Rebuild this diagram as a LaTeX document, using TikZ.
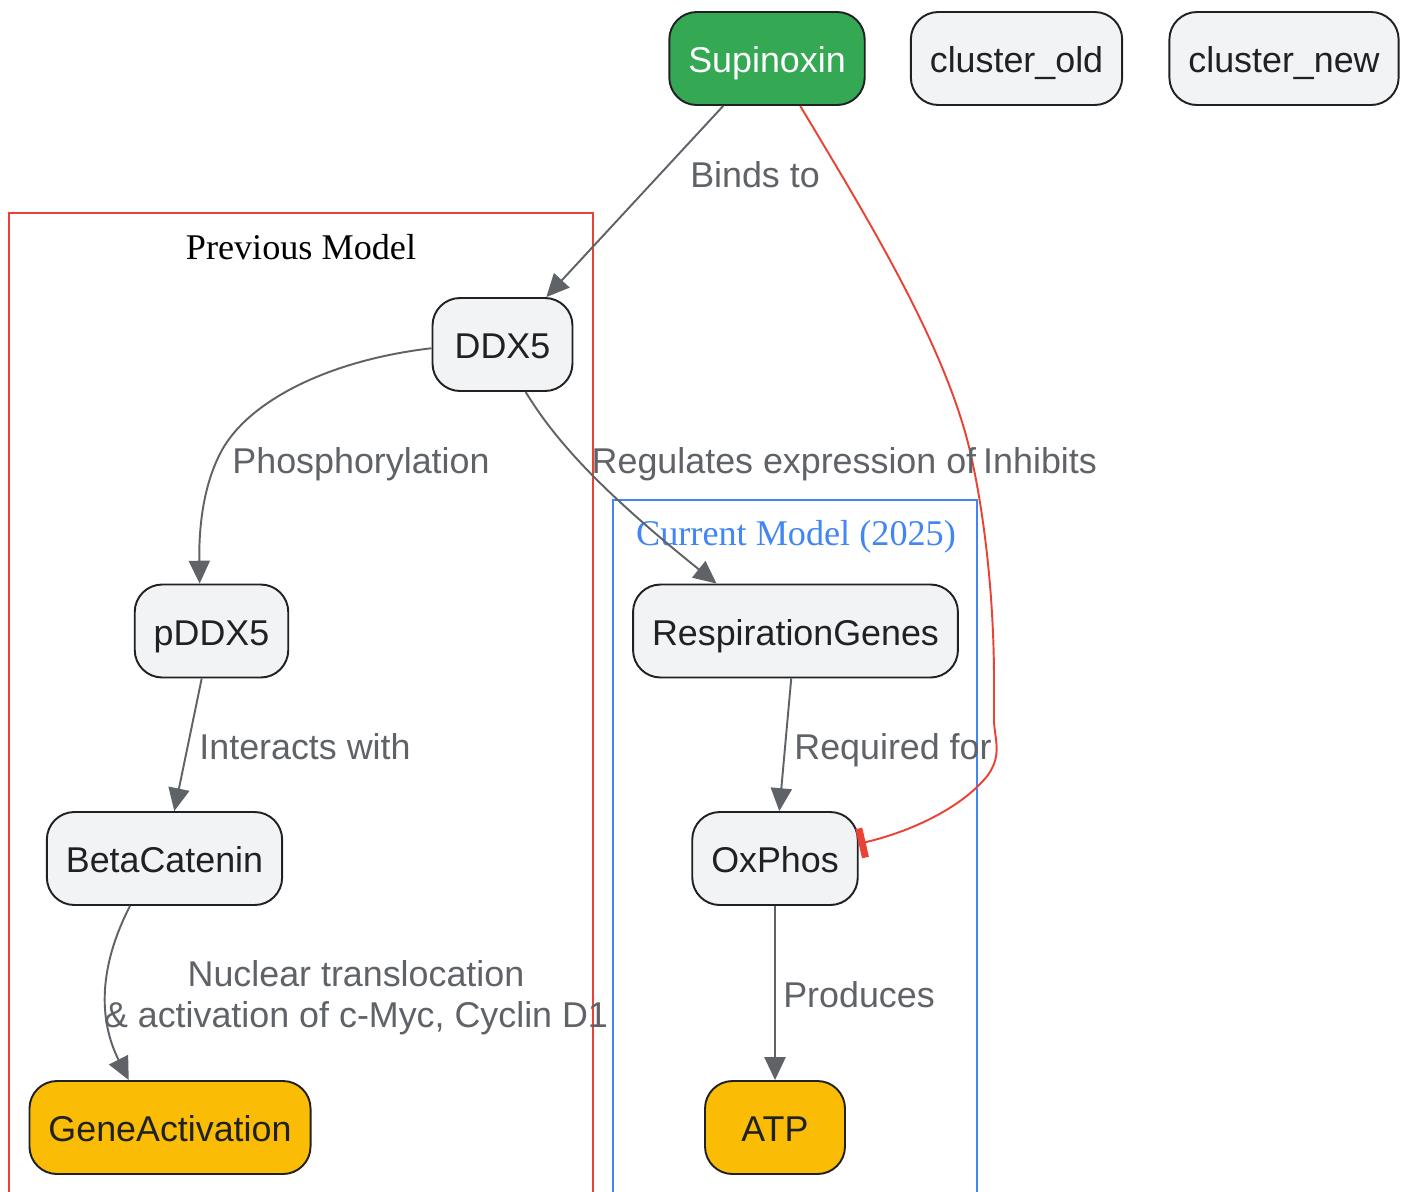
\documentclass[tikz,border=0pt]{standalone}
\usepackage{fontspec}
\setmainfont{Liberation Sans}
\newfontfamily\titlefont{Liberation Serif}
\usetikzlibrary{arrows.meta,calc}
\definecolor{nodeFill}{HTML}{F1F3F4}
\definecolor{nodeLine}{HTML}{202124}
\definecolor{edgeGray}{HTML}{5F6368}
\definecolor{gRed}{HTML}{EA4335}
\definecolor{gBlue}{HTML}{4285F4}
\definecolor{gGreen}{HTML}{34A853}
\definecolor{gYellow}{HTML}{FBBC05}
\newcommand{\BigFont}{\fontsize{20.4}{23.2}\selectfont}
\tikzset{
    line/.style    = {-{Triangle[length=13pt,width=12pt]}, line width=1.1pt, draw=edgeGray},
    inhibit/.style = {-{Bar[width=17pt,line width=4pt]}, line width=1.1pt, draw=gRed},
    block/.style   = {draw=nodeLine, line width=1.1pt, fill=nodeFill, text=nodeLine,
            minimum width=2.8cm, minimum height=1.86cm, inner xsep=0.38cm,
            text height=16pt, text depth=0pt,
            rounded corners=0.55cm, font=\BigFont},
    drug/.style    = {block, fill=gGreen, text=white},
    outcome/.style = {block, fill=gYellow},
    elabel/.style  = {text=edgeGray, font=\BigFont, align=center, inner sep=0pt,
            text height=14.8pt, text depth=0pt},
    cluster/.style = {line width=1.1pt},
    ctitle/.style  = {font=\titlefont\fontsize{20.6}{24}\selectfont, inner sep=0pt,
            text height=13.6pt, text depth=0pt},
}

\begin{document}
\begin{tikzpicture}[x=0.02cm,y=-0.02cm]
    \clip (0,0) rectangle (1409,1191);
    \fill[white] (0,0) rectangle (1409,1191);

    % Clusters
    \draw[cluster, gRed] (9,213) rectangle (593,1210);
    \draw[cluster, gBlue] (613,500) rectangle (977,1210);
    \node[ctitle] (oldTitle) at (301,248) {Previous Model};
    \node[ctitle, text=gBlue] (newTitle) at (796,534) {Current Model (2025)};

    % Nodes
    \node[drug] (sup) at (767,58.5) {Supinoxin};
    \node[block] (cOld) at (1016.5,58.5) {cluster\_old};
    \node[block] (cNew) at (1284,58.5) {cluster\_new};
    \node[block] (ddx) at (502.5,344.5) {DDX5};
    \node[block] (pddx) at (211.5,631) {pDDX5};
    \node[block] (bcat) at (164.5,858.5) {BetaCatenin};
    \node[outcome] (gact) at (170,1127.5) {GeneActivation};
    \node[block] (resp) at (795.5,631) {RespirationGenes};
    \node[block] (oxp) at (775,858.5) {OxPhos};
    \node[outcome] (atp) at (775,1127.5) {ATP};

    % Edges
    \draw[line] (sup) -- (ddx);
    \draw[inhibit] (sup.-55) .. controls (866,216) and (949,350) .. (972,460)
        .. controls (985,520) and (994,600) .. (994,680) -- (994,722)
        .. controls (995,740) and (1002,755) .. (988,775)
        .. controls (962,808) and (910,832) .. (oxp.10);
    \draw[line] (ddx.-177) .. controls (330,360) and (250,400) .. (222,450)
        .. controls (200,490) and (199,540) .. (pddx.104);
    \draw[line] (ddx.-64) .. controls (555,440) and (600,490) .. (resp.149);
    \draw[line] (pddx) -- (bcat);
    \draw[line] (bcat.-126) .. controls (99,966) and (98,1019) .. (gact.131);
    \draw[line] (resp) -- (oxp);
    \draw[line] (oxp) -- (atp);

    % Edge labels
    \node[elabel] (lBinds) at (755,174) {Binds to};
    \node[elabel] (lInhib) at (1040,460) {Inhibits};
    \node[elabel] (lPhos) at (361,460) {Phosphorylation};
    \node[elabel] (lReg) at (784,460) {Regulates expression of};
    \node[elabel] (lInter) at (305,746) {Interacts with};
    \node[elabel] (lNuc) at (356,1014) {Nuclear translocation\\\& activation of c-Myc, Cyclin D1};
    \node[elabel] (lReq) at (893,746) {Required for};
    \node[elabel] (lProd) at (859,994) {Produces};
\end{tikzpicture}
\end{document}
